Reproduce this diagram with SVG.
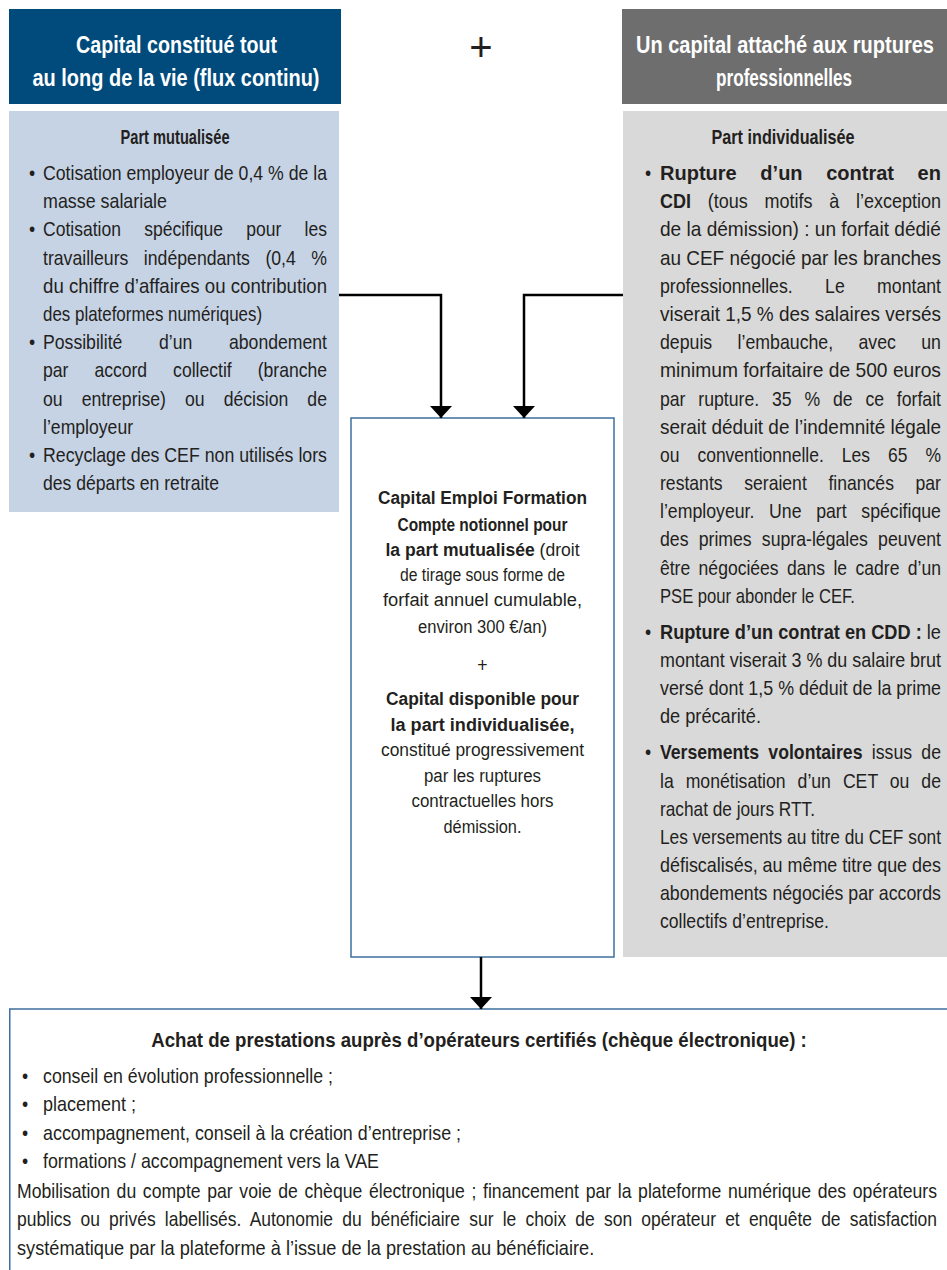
<svg xmlns="http://www.w3.org/2000/svg" width="947" height="1270" viewBox="0 0 947 1270">
<defs>
<style>
text{font-family:"Liberation Sans",Arial,sans-serif;fill:#231f20;font-size:20px}
.h{fill:#fff;font-weight:bold;font-size:23px;text-anchor:middle}
.b{font-weight:bold}
.t{font-size:19px}
.c{text-anchor:middle}
.conn{fill:none;stroke:#000;stroke-width:2.5}
</style>
<marker id="arr" viewBox="0 0 12 22" markerWidth="12" markerHeight="22" refX="12" refY="11" orient="auto" markerUnits="userSpaceOnUse">
<path d="M0,0 L12,11 L0,22 z" fill="#000"/>
</marker>
</defs>
<rect width="947" height="1270" fill="#fff"/>

<g id="header-left">
<rect x="9" y="9" width="332" height="95" fill="#004b7c"/>
<g transform="scale(0.88,1)">
<text class="h" x="200.6" y="53" textLength="228.4" lengthAdjust="spacingAndGlyphs">Capital constitué tout</text>
<text class="h" x="200" y="86" textLength="326.1" lengthAdjust="spacingAndGlyphs">au long de la vie (flux continu)</text>
</g>
</g>

<g id="plus-top">
<text class="c" x="481" y="61" style="font-size:40px">+</text>
</g>

<g id="header-right">
<rect x="622" y="9" width="325" height="95" fill="#6e6e6e"/>
<g transform="scale(0.88,1)">
<text class="h" x="892" y="53" textLength="338.6" lengthAdjust="spacingAndGlyphs">Un capital attaché aux ruptures</text>
<text class="h" x="891" y="86" textLength="154.5" lengthAdjust="spacingAndGlyphs">professionnelles</text>
</g>
</g>

<g id="part-mutualisee">
<rect x="9" y="111" width="330" height="401" fill="#c6d3e5"/>
<g transform="scale(0.88,1)">
<text class="b c" x="198.9" y="144" font-size="19" textLength="123.9" lengthAdjust="spacingAndGlyphs">Part mutualisée</text>
<text x="33" y="180">•</text><text x="48.9" y="180" textLength="322.7" lengthAdjust="spacingAndGlyphs">Cotisation employeur de 0,4 % de la</text>
<text x="48.9" y="208" textLength="140.9" lengthAdjust="spacingAndGlyphs">masse salariale</text>
<text x="33" y="236">•</text><text x="48.9" y="236" word-spacing="21" textLength="322.7" lengthAdjust="spacingAndGlyphs">Cotisation spécifique pour les</text>
<text x="48.9" y="265" word-spacing="12" textLength="322.7" lengthAdjust="spacingAndGlyphs">travailleurs indépendants (0,4 %</text>
<text x="48.9" y="293" textLength="322.7" lengthAdjust="spacingAndGlyphs">du chiffre d’affaires ou contribution</text>
<text x="48.9" y="321" textLength="248.9" lengthAdjust="spacingAndGlyphs">des plateformes numériques)</text>
<text x="33" y="349">•</text><text x="48.9" y="349" word-spacing="36" textLength="322.7" lengthAdjust="spacingAndGlyphs">Possibilité d’un abondement</text>
<text x="48.9" y="377" word-spacing="24" textLength="322.7" lengthAdjust="spacingAndGlyphs">par accord collectif (branche</text>
<text x="48.9" y="406" word-spacing="16" textLength="322.7" lengthAdjust="spacingAndGlyphs">ou entreprise) ou décision de</text>
<text x="48.9" y="434" textLength="102.3" lengthAdjust="spacingAndGlyphs">l’employeur</text>
<text x="33" y="462">•</text><text x="48.9" y="462" textLength="322.7" lengthAdjust="spacingAndGlyphs">Recyclage des CEF non utilisés lors</text>
<text x="48.9" y="490" textLength="200" lengthAdjust="spacingAndGlyphs">des départs en retraite</text>
</g>
</g>

<g id="part-individualisee">
<rect x="623" y="111" width="324" height="846" fill="#d9d9d9"/>
<text class="b" x="660" y="180" word-spacing="18" textLength="281" lengthAdjust="spacingAndGlyphs">Rupture d’un contrat en</text>
<g transform="scale(0.88,1)">
<text class="b c" x="889.8" y="144" font-size="19" textLength="162.5" lengthAdjust="spacingAndGlyphs">Part individualisée</text>
<text x="733" y="180">•</text>
<text x="750" y="208" word-spacing="13" textLength="319.3" lengthAdjust="spacingAndGlyphs"><tspan class="b">CDI</tspan> (tous motifs à l’exception</text>
<text x="750" y="236" textLength="319.3" lengthAdjust="spacingAndGlyphs">de la démission) : un forfait dédié</text>
<text x="750" y="265" textLength="319.3" lengthAdjust="spacingAndGlyphs">au CEF négocié par les branches</text>
<text x="750" y="293" word-spacing="31" textLength="319.3" lengthAdjust="spacingAndGlyphs">professionnelles. Le montant</text>
<text x="750" y="321" textLength="319.3" lengthAdjust="spacingAndGlyphs">viserait 1,5 % des salaires versés</text>
<text x="750" y="349" word-spacing="23" textLength="319.3" lengthAdjust="spacingAndGlyphs">depuis l’embauche, avec un</text>
<text x="750" y="377" textLength="319.3" lengthAdjust="spacingAndGlyphs">minimum forfaitaire de 500 euros</text>
<text x="750" y="406" word-spacing="9" textLength="319.3" lengthAdjust="spacingAndGlyphs">par rupture. 35 % de ce forfait</text>
<text x="750" y="434" textLength="319.3" lengthAdjust="spacingAndGlyphs">serait déduit de l’indemnité légale</text>
<text x="750" y="462" word-spacing="15" textLength="319.3" lengthAdjust="spacingAndGlyphs">ou conventionnelle. Les 65 %</text>
<text x="750" y="490" word-spacing="19" textLength="319.3" lengthAdjust="spacingAndGlyphs">restants seraient financés par</text>
<text x="750" y="518" word-spacing="11" textLength="319.3" lengthAdjust="spacingAndGlyphs">l’employeur. Une part spécifique</text>
<text x="750" y="546" word-spacing="6" textLength="319.3" lengthAdjust="spacingAndGlyphs">des primes supra-légales peuvent</text>
<text x="750" y="575" word-spacing="4" textLength="319.3" lengthAdjust="spacingAndGlyphs">être négociées dans le cadre d’un</text>
<text x="750" y="603" textLength="221.6" lengthAdjust="spacingAndGlyphs">PSE pour abonder le CEF.</text>
<text x="733" y="639">•</text><text x="750" y="639" textLength="319.3" lengthAdjust="spacingAndGlyphs"><tspan class="b">Rupture d’un contrat en CDD :</tspan> le</text>
<text x="750" y="667" textLength="319.3" lengthAdjust="spacingAndGlyphs">montant viserait 3 % du salaire brut</text>
<text x="750" y="695" textLength="319.3" lengthAdjust="spacingAndGlyphs">versé dont 1,5 % déduit de la prime</text>
<text x="750" y="723" textLength="114.8" lengthAdjust="spacingAndGlyphs">de précarité.</text>
<text x="733" y="759">•</text><text x="750" y="759" word-spacing="5" textLength="319.3" lengthAdjust="spacingAndGlyphs"><tspan class="b">Versements volontaires</tspan> issus de</text>
<text x="750" y="788" word-spacing="8" textLength="319.3" lengthAdjust="spacingAndGlyphs">la monétisation d’un CET ou de</text>
<text x="750" y="816" textLength="176.1" lengthAdjust="spacingAndGlyphs">rachat de jours RTT.</text>
<text x="750" y="844" textLength="319.3" lengthAdjust="spacingAndGlyphs">Les versements au titre du CEF sont</text>
<text x="750" y="872" textLength="319.3" lengthAdjust="spacingAndGlyphs">défiscalisés, au même titre que des</text>
<text x="750" y="900" textLength="319.3" lengthAdjust="spacingAndGlyphs">abondements négociés par accords</text>
<text x="750" y="928" textLength="192" lengthAdjust="spacingAndGlyphs">collectifs d’entreprise.</text>
</g>
</g>

<g id="capital-emploi-formation">
<rect x="351" y="418" width="263" height="539" fill="#fff" stroke="#3c6f9f" stroke-width="1.5"/>
<g transform="scale(0.88,1)">
<text class="t b c" x="548.3" y="504" textLength="237.5" lengthAdjust="spacingAndGlyphs">Capital Emploi Formation</text>
<text class="t b c" x="548.3" y="531" textLength="193.2" lengthAdjust="spacingAndGlyphs">Compte notionnel pour</text>
<text class="t c" x="548.3" y="556" textLength="220.5" lengthAdjust="spacingAndGlyphs"><tspan class="b">la part mutualisée</tspan> (droit</text>
<text class="t c" x="548.3" y="581" textLength="187.5" lengthAdjust="spacingAndGlyphs">de tirage sous forme de</text>
<text class="t c" x="548.3" y="606" textLength="226.1" lengthAdjust="spacingAndGlyphs">forfait annuel cumulable,</text>
<text class="t c" x="548.3" y="633" textLength="146.6" lengthAdjust="spacingAndGlyphs">environ 300 €/an)</text>
<text class="c" x="548.3" y="672" font-size="24">+</text>
<text class="t b c" x="548.3" y="705" textLength="219.3" lengthAdjust="spacingAndGlyphs">Capital disponible pour</text>
<text class="t b c" x="548.3" y="731" textLength="209.1" lengthAdjust="spacingAndGlyphs">la part individualisée,</text>
<text class="t c" x="548.3" y="756" textLength="230.7" lengthAdjust="spacingAndGlyphs">constitué progressivement</text>
<text class="t c" x="548.3" y="782" textLength="133" lengthAdjust="spacingAndGlyphs">par les ruptures</text>
<text class="t c" x="548.3" y="807" textLength="161.4" lengthAdjust="spacingAndGlyphs">contractuelles hors</text>
<text class="t c" x="548.3" y="833" textLength="88.6" lengthAdjust="spacingAndGlyphs">démission.</text>
</g>
</g>

<g id="achat-prestations">
<rect x="9.75" y="1009" width="960" height="300" fill="#fff" stroke="#3c6f9f" stroke-width="1.5"/>
<g transform="scale(0.88,1)">
<text class="b c" x="544.3" y="1047" textLength="745" lengthAdjust="spacingAndGlyphs">Achat de prestations auprès d’opérateurs certifiés (chèque électronique) :</text>
<text x="25" y="1083">•</text><text x="48.9" y="1083" textLength="329.5" lengthAdjust="spacingAndGlyphs">conseil en évolution professionnelle ;</text>
<text x="25" y="1111">•</text><text x="48.9" y="1111" textLength="105.7" lengthAdjust="spacingAndGlyphs">placement ;</text>
<text x="25" y="1140">•</text><text x="48.9" y="1140" textLength="475" lengthAdjust="spacingAndGlyphs">accompagnement, conseil à la création d’entreprise ;</text>
<text x="25" y="1168">•</text><text x="48.9" y="1168" textLength="381.8" lengthAdjust="spacingAndGlyphs">formations / accompagnement vers la VAE</text>
<text x="19.3" y="1198" word-spacing="2" textLength="1045.5" lengthAdjust="spacingAndGlyphs">Mobilisation du compte par voie de chèque électronique ; financement par la plateforme numérique des opérateurs</text>
<text x="19.3" y="1226" word-spacing="5" textLength="1045.5" lengthAdjust="spacingAndGlyphs">publics ou privés labellisés. Autonomie du bénéficiaire sur le choix de son opérateur et enquête de satisfaction</text>
<text x="19.3" y="1255" textLength="656" lengthAdjust="spacingAndGlyphs">systématique par la plateforme à l’issue de la prestation au bénéficiaire.</text>
</g>
</g>

<g id="connectors">
<path class="conn" d="M339,295 H441 V418" marker-end="url(#arr)"/>
<path class="conn" d="M623,295 H524 V418" marker-end="url(#arr)"/>
<path class="conn" d="M481,957 V1009" marker-end="url(#arr)"/>
</g>
</svg>
